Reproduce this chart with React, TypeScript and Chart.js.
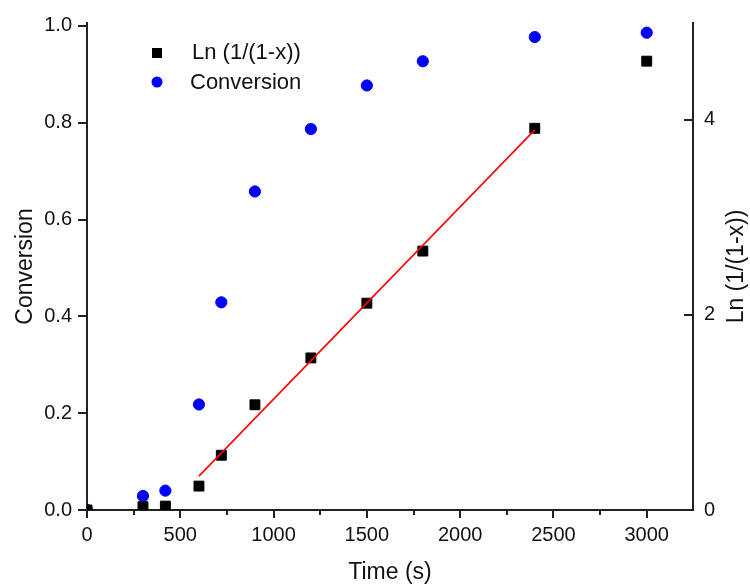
import React, { useEffect, useRef } from 'react';
import { Chart, registerables } from 'chart.js';

Chart.register(...registerables);

const times = [0, 300, 420, 600, 720, 900, 1200, 1500, 1800, 2400, 3000];
const conversion = [0, 0.029, 0.04, 0.218, 0.429, 0.658, 0.787, 0.877, 0.927, 0.977, 0.986];
const lnValues = [0, 0.034, 0.04, 0.245, 0.561, 1.078, 1.558, 2.119, 2.653, 3.911, 4.599];
const fitTimes = [600, 2400];
const fitValues = [0.347, 3.895];
const xTicks = [0, 500, 1000, 1500, 2000, 2500, 3000];
const xMinorTicks = [250, 750, 1250, 1750, 2250, 2750];
const leftTicks = [0, 0.2, 0.4, 0.6, 0.8, 1.0];
const rightTicks = [0, 2, 4];
const legendLabels = ['Ln (1/(1-x))', 'Conversion'];
const xTitle = 'Time (s)';
const leftTitle = 'Conversion';
const rightTitle = 'Ln (1/(1-x))';

const FONT = '"Liberation Sans", Arial, Helvetica, sans-serif';
const AXIS = '#222222';
const TEXT = '#111111';
const BLUE = '#0000ff';
const BLACK = '#000000';
const RED = '#ff0000';

const decorPlugin = {
  id: 'decor',
  afterDraw(chart: any) {
    const ctx = chart.ctx as CanvasRenderingContext2D;
    const area = chart.chartArea;
    const xs = chart.scales.x;
    const yr = chart.scales.yR;
    ctx.save();
    ctx.strokeStyle = AXIS;
    ctx.lineWidth = 2;
    xMinorTicks.forEach((v) => {
      const px = Math.round(xs.getPixelForValue(v));
      ctx.beginPath();
      ctx.moveTo(px, area.bottom);
      ctx.lineTo(px, area.bottom + 5);
      ctx.stroke();
    });
    rightTicks.forEach((v) => {
      const py = Math.round(yr.getPixelForValue(v));
      ctx.beginPath();
      ctx.moveTo(area.right - 9, py);
      ctx.lineTo(area.right, py);
      ctx.stroke();
    });
    ctx.fillStyle = TEXT;
    ctx.font = `23px ${FONT}`;
    ctx.textAlign = 'center';
    ctx.textBaseline = 'middle';
    ctx.translate(area.right + 44, (area.top + area.bottom) / 2);
    ctx.rotate(-Math.PI / 2);
    ctx.fillText(rightTitle, 0, 0);
    ctx.restore();

    ctx.save();
    const lx = area.left + 70;
    const ly1 = area.top + 30;
    const ly2 = area.top + 59;
    ctx.fillStyle = BLACK;
    ctx.fillRect(lx - 5, ly1 - 5, 10, 10);
    ctx.fillStyle = BLUE;
    ctx.beginPath();
    ctx.arc(lx, ly2, 5.5, 0, Math.PI * 2);
    ctx.fill();
    ctx.fillStyle = TEXT;
    ctx.font = `22px ${FONT}`;
    ctx.textAlign = 'left';
    ctx.textBaseline = 'middle';
    ctx.fillText(legendLabels[0], lx + 35, ly1);
    ctx.fillText(legendLabels[1], lx + 33, ly2 + 1);
    ctx.restore();
  },
};

export default function App() {
  const ref = useRef<HTMLCanvasElement>(null);
  useEffect(() => {
    document.body.style.margin = '0';
    const canvas = ref.current!;
    const chart = new Chart(canvas, {
      type: 'scatter',
      data: {
        datasets: [
          {
            label: 'fit',
            data: fitTimes.map((t, i) => ({ x: t, y: fitValues[i] })),
            showLine: true,
            borderColor: RED,
            borderWidth: 1.6,
            pointRadius: 0,
            yAxisID: 'yR',
          },
          {
            label: legendLabels[0],
            data: times.map((t, i) => ({ x: t, y: lnValues[i] })),
            pointStyle: 'rect',
            pointRadius: 7,
            borderWidth: 1,
            backgroundColor: BLACK,
            borderColor: BLACK,
            yAxisID: 'yR',
          },
          {
            label: legendLabels[1],
            data: times.map((t, i) => ({ x: t, y: conversion[i] })),
            pointStyle: 'circle',
            pointRadius: 5.6,
            borderWidth: 1,
            backgroundColor: BLUE,
            borderColor: BLUE,
            yAxisID: 'yL',
          },
        ],
      },
      options: {
        animation: false,
        responsive: false,
        devicePixelRatio: 1,
        layout: { padding: { top: 21, left: 0, right: 0, bottom: 0 } },
        plugins: { legend: { display: false }, tooltip: { enabled: false } },
        scales: {
          x: {
            type: 'linear',
            position: 'bottom',
            min: 0,
            max: 3248,
            afterBuildTicks: (s: any) => {
              s.ticks = xTicks.map((v) => ({ value: v }));
            },
            afterFit: (s: any) => {
              s.height = 75;
            },
            grid: { drawOnChartArea: false, drawTicks: true, tickLength: 8, color: AXIS, lineWidth: 2 },
            border: { display: true, color: AXIS, width: 2 },
            ticks: {
              color: TEXT,
              font: { family: FONT, size: 20 },
              padding: 5,
              maxRotation: 0,
              callback: (v: any) => String(v),
            },
            title: {
              display: true,
              text: xTitle,
              color: TEXT,
              font: { family: FONT, size: 23, lineHeight: 1 },
              padding: { top: 0, bottom: 1 },
            },
          },
          yL: {
            type: 'linear',
            position: 'left',
            min: 0,
            max: 1.006,
            afterBuildTicks: (s: any) => {
              s.ticks = leftTicks.map((v) => ({ value: v }));
            },
            afterFit: (s: any) => {
              s.width = 87;
            },
            grid: { drawOnChartArea: false, drawTicks: true, tickLength: 9, color: AXIS, lineWidth: 2 },
            border: { display: true, color: AXIS, width: 2 },
            ticks: {
              color: TEXT,
              font: { family: FONT, size: 20 },
              padding: 6,
              callback: (v: any) => Number(v).toFixed(1),
            },
            title: {
              display: true,
              text: leftTitle,
              color: TEXT,
              font: { family: FONT, size: 23, lineHeight: 1 },
              padding: { top: 14, bottom: 0 },
            },
          },
          yR: {
            type: 'linear',
            position: 'right',
            min: 0,
            max: 4.99,
            afterBuildTicks: (s: any) => {
              s.ticks = rightTicks.map((v) => ({ value: v }));
            },
            afterFit: (s: any) => {
              s.width = 57;
            },
            grid: { drawOnChartArea: false, drawTicks: false },
            border: { display: true, color: AXIS, width: 2 },
            ticks: {
              color: TEXT,
              font: { family: FONT, size: 20 },
              padding: 11,
              callback: (v: any) => String(v),
            },
          },
        },
      },
      plugins: [decorPlugin],
    });
    return () => chart.destroy();
  }, []);
  return (
    <div style={{ width: 750, height: 585 }}>
      <canvas ref={ref} width={750} height={585} style={{ display: 'block' }} />
    </div>
  );
}
